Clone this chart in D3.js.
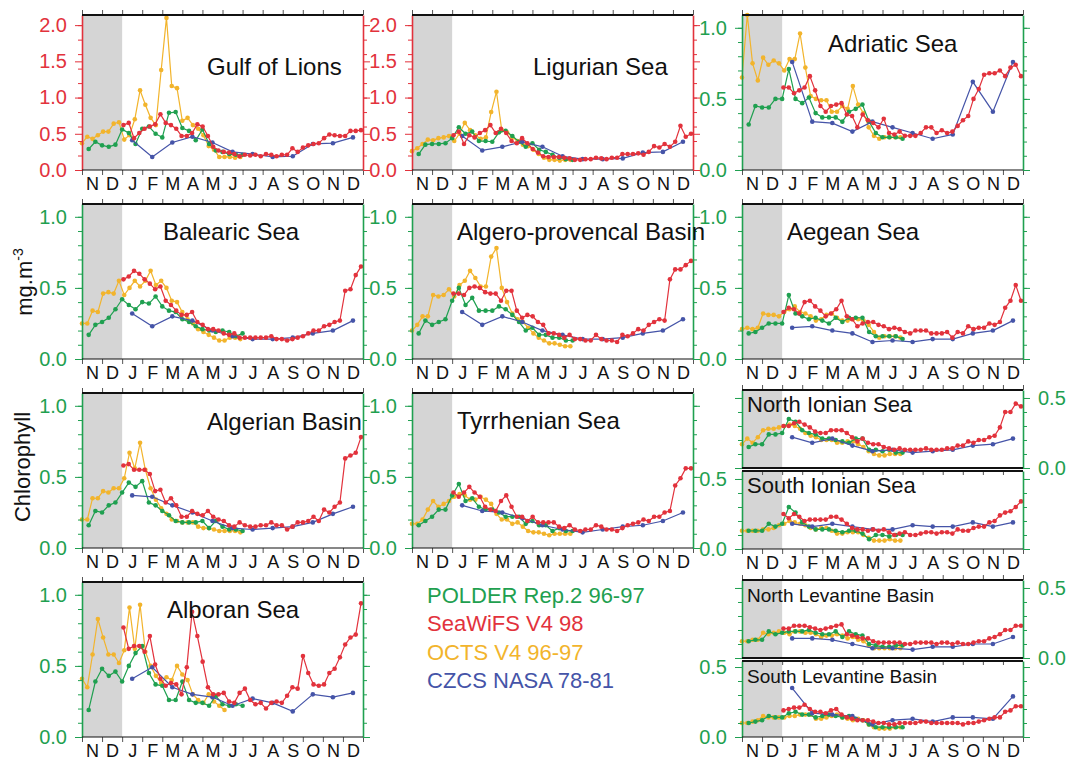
<!DOCTYPE html>
<html lang="en">
<head>
<meta charset="UTF-8">
<title>Chlorophyll seasonal cycles - Mediterranean</title>
<script src="https://d3js.org/d3.v7.min.js"></script>
<style>
  body { margin: 0; background: #fff; }
  text { font-family: "Liberation Sans", Arial, Helvetica, sans-serif; }
</style>
</head>
<body>
<svg id="chart" width="1070" height="761"></svg>
<script>
// ---------------- data ----------------
var months = ["N","D","J","F","M","A","M","J","J","A","S","O","N","D"];

// sampling dates, in months counted from 1 November (axis runs Nov..Dec = 14 months)
var seawifsT = d3.range(46).map(function(i){ return 2 + (2 + 8*i) * 12/365; }); // 8-day, 1998
var polderT  = d3.range(24).map(function(k){ return (k + 1) / 3; });            // 10-day, Nov96-Jun97
var octsT    = d3.range(31).map(function(i){ return 8*i * 12/365; });           // 8-day, Nov96-Jun97
var czcsT    = d3.range(12).map(function(m){ return 2.5 + m; });                // monthly climatology

var gulfSeawifs = [0.62,0.65,0.44,0.51,0.57,0.60,0.63,0.77,0.65,0.62,0.57,0.47,0.47,0.51,0.63,0.60,0.47,0.32,0.27,0.25,0.24,0.22,0.19,0.21,0.20,0.21,0.19,0.22,0.21,0.19,0.21,0.21,0.30,0.25,0.31,0.34,0.36,0.37,0.44,0.49,0.48,0.47,0.47,0.54,0.54,0.55];
var gulfPolder  = [0.29,0.39,0.34,0.32,0.35,0.56,0.51,0.36,0.57,0.60,0.50,0.45,0.79,0.80,0.58,0.54,0.41,0.56,0.36,0.27,0.25,0.22,0.21,0.21];
var gulfOcts    = [0.37,0.46,0.43,0.48,0.53,0.53,0.64,0.66,0.42,0.48,0.70,1.10,0.90,0.72,0.62,1.38,2.10,1.16,1.13,0.68,0.72,0.62,0.57,0.48,0.33,0.28,0.18,0.18,0.18,0.17,0.18];
var gulfCzcs    = [0.41,0.18,0.38,0.46,0.38,0.25,0.22,0.18,0.19,0.36,0.37,0.45];

var ligSeawifs = [0.48,0.53,0.36,0.48,0.45,0.51,0.55,0.62,0.51,0.57,0.51,0.40,0.37,0.44,0.37,0.29,0.24,0.19,0.18,0.18,0.18,0.17,0.16,0.14,0.14,0.15,0.15,0.17,0.16,0.15,0.17,0.17,0.22,0.22,0.22,0.23,0.21,0.25,0.33,0.31,0.36,0.32,0.39,0.61,0.46,0.50];
var ligPolder  = [0.22,0.35,0.36,0.36,0.37,0.44,0.59,0.50,0.53,0.40,0.40,0.39,0.52,0.54,0.47,0.39,0.32,0.37,0.28,0.25,0.21,0.17,0.15,0.14];
var ligOcts    = [0.26,0.30,0.36,0.42,0.41,0.44,0.45,0.47,0.40,0.50,0.65,0.55,0.48,0.43,0.45,0.80,1.08,0.55,0.52,0.45,0.40,0.35,0.33,0.28,0.22,0.17,0.14,0.14,0.13,0.14,0.14];
var ligCzcs    = [0.47,0.27,0.32,0.39,0.32,0.19,0.15,0.15,0.16,0.24,0.25,0.39];

var adrSeawifs = [0.58,0.58,0.54,0.56,0.58,0.66,0.56,0.45,0.41,0.45,0.46,0.47,0.39,0.38,0.30,0.39,0.35,0.33,0.30,0.36,0.26,0.25,0.27,0.24,0.24,0.24,0.26,0.30,0.30,0.26,0.28,0.26,0.27,0.31,0.35,0.38,0.50,0.57,0.67,0.68,0.68,0.70,0.66,0.72,0.74,0.66];
var adrPolder  = [0.32,0.45,0.44,0.44,0.50,0.50,0.71,0.50,0.47,0.51,0.40,0.37,0.37,0.37,0.34,0.41,0.43,0.46,0.34,0.26,0.23,0.23,0.23,0.22];
var adrOcts    = [0.65,1.09,0.75,0.63,0.79,0.74,0.77,0.75,0.70,0.78,0.78,0.96,0.72,0.52,0.50,0.49,0.49,0.41,0.41,0.45,0.43,0.59,0.46,0.40,0.30,0.24,0.22,0.23,0.23,0.23,0.23];
var adrCzcs    = [0.76,0.34,0.33,0.27,0.34,0.30,0.26,0.22,0.25,0.62,0.41,0.76];

var balSeawifs = [0.56,0.58,0.62,0.60,0.56,0.53,0.49,0.51,0.41,0.38,0.34,0.31,0.31,0.33,0.26,0.24,0.21,0.21,0.20,0.18,0.17,0.18,0.15,0.15,0.15,0.15,0.15,0.15,0.16,0.14,0.14,0.13,0.14,0.15,0.16,0.18,0.20,0.20,0.23,0.24,0.26,0.27,0.48,0.49,0.59,0.65];
var balPolder  = [0.17,0.24,0.26,0.29,0.35,0.42,0.38,0.35,0.40,0.39,0.44,0.37,0.34,0.33,0.28,0.26,0.23,0.21,0.20,0.19,0.20,0.19,0.16,0.18];
var balOcts    = [0.25,0.25,0.34,0.33,0.46,0.47,0.46,0.55,0.45,0.50,0.55,0.51,0.55,0.62,0.52,0.55,0.50,0.41,0.40,0.33,0.28,0.25,0.21,0.19,0.17,0.15,0.13,0.13,0.15,0.15,0.14];
var balCzcs    = [0.32,0.23,0.30,0.27,0.20,0.16,0.14,0.14,0.15,0.18,0.20,0.27];

var algpSeawifs = [0.46,0.46,0.45,0.50,0.51,0.50,0.47,0.46,0.46,0.41,0.48,0.48,0.34,0.29,0.31,0.30,0.26,0.24,0.18,0.18,0.17,0.15,0.17,0.14,0.14,0.13,0.13,0.17,0.14,0.13,0.13,0.12,0.17,0.16,0.18,0.21,0.20,0.24,0.26,0.28,0.27,0.56,0.63,0.63,0.66,0.69];
var algpPolder  = [0.18,0.27,0.24,0.26,0.28,0.41,0.50,0.38,0.43,0.34,0.34,0.34,0.37,0.35,0.31,0.26,0.20,0.22,0.17,0.17,0.15,0.15,0.13,0.13];
var algpOcts    = [0.20,0.24,0.30,0.30,0.45,0.44,0.45,0.49,0.44,0.52,0.55,0.62,0.57,0.51,0.51,0.72,0.78,0.50,0.40,0.32,0.28,0.26,0.22,0.18,0.15,0.13,0.11,0.11,0.10,0.09,0.09];
var algpCzcs    = [0.33,0.24,0.30,0.26,0.20,0.17,0.14,0.14,0.15,0.18,0.20,0.28];

var aegSeawifs = [0.33,0.36,0.35,0.32,0.40,0.41,0.37,0.34,0.30,0.32,0.35,0.41,0.30,0.28,0.23,0.25,0.26,0.26,0.24,0.23,0.21,0.22,0.21,0.19,0.18,0.20,0.20,0.20,0.18,0.18,0.18,0.19,0.15,0.19,0.18,0.23,0.21,0.22,0.22,0.25,0.24,0.26,0.36,0.41,0.52,0.41];
var aegPolder  = [0.18,0.19,0.22,0.25,0.25,0.25,0.45,0.32,0.30,0.28,0.29,0.27,0.25,0.29,0.26,0.29,0.29,0.29,0.19,0.16,0.16,0.16,0.16,0.14];
var aegOcts    = [0.21,0.22,0.21,0.22,0.32,0.31,0.31,0.30,0.33,0.35,0.37,0.33,0.32,0.30,0.27,0.28,0.31,0.32,0.29,0.27,0.27,0.28,0.28,0.27,0.24,0.19,0.15,0.16,0.16,0.16,0.15];
var aegCzcs    = [0.22,0.23,0.20,0.18,0.12,0.13,0.12,0.14,0.14,0.18,0.20,0.27];

var algSeawifs = [0.58,0.59,0.55,0.55,0.55,0.52,0.40,0.41,0.32,0.35,0.30,0.22,0.22,0.26,0.24,0.23,0.26,0.22,0.20,0.19,0.16,0.15,0.18,0.16,0.15,0.15,0.16,0.16,0.18,0.16,0.16,0.13,0.15,0.18,0.18,0.19,0.22,0.19,0.27,0.25,0.29,0.32,0.63,0.65,0.67,0.78];
var algPolder  = [0.16,0.26,0.25,0.30,0.32,0.39,0.46,0.43,0.47,0.32,0.30,0.26,0.23,0.19,0.18,0.18,0.18,0.19,0.14,0.19,0.15,0.13,0.13,0.12];
var algOcts    = [0.20,0.20,0.35,0.35,0.40,0.39,0.42,0.42,0.49,0.67,0.56,0.74,0.55,0.42,0.34,0.28,0.24,0.20,0.19,0.18,0.18,0.18,0.15,0.14,0.14,0.13,0.12,0.12,0.12,0.12,0.11];
var algCzcs    = [0.37,0.36,0.30,0.25,0.19,0.14,0.13,0.14,0.15,0.18,0.24,0.29];

var tyrSeawifs = [0.39,0.36,0.39,0.43,0.39,0.36,0.29,0.27,0.26,0.33,0.37,0.29,0.22,0.22,0.19,0.22,0.18,0.18,0.18,0.18,0.15,0.14,0.16,0.13,0.12,0.13,0.13,0.16,0.15,0.13,0.13,0.12,0.14,0.16,0.17,0.18,0.20,0.19,0.22,0.22,0.25,0.26,0.44,0.49,0.56,0.56];
var tyrPolder  = [0.16,0.19,0.22,0.27,0.27,0.37,0.45,0.33,0.35,0.29,0.27,0.27,0.25,0.22,0.22,0.22,0.17,0.19,0.16,0.16,0.12,0.14,0.12,0.12];
var tyrOcts    = [0.17,0.17,0.20,0.27,0.33,0.29,0.31,0.33,0.36,0.38,0.37,0.34,0.34,0.36,0.34,0.31,0.24,0.20,0.20,0.17,0.18,0.15,0.12,0.11,0.11,0.10,0.09,0.10,0.10,0.10,0.10];
var tyrCzcs    = [0.30,0.26,0.25,0.21,0.16,0.13,0.11,0.13,0.15,0.16,0.19,0.25];

var nionSeawifs = [0.30,0.30,0.32,0.33,0.31,0.29,0.26,0.25,0.25,0.27,0.27,0.27,0.25,0.22,0.19,0.21,0.18,0.17,0.17,0.15,0.14,0.13,0.14,0.13,0.13,0.13,0.13,0.14,0.13,0.13,0.13,0.14,0.14,0.16,0.16,0.19,0.18,0.20,0.20,0.22,0.23,0.29,0.40,0.40,0.46,0.44];
var nionPolder  = [0.15,0.17,0.17,0.24,0.24,0.25,0.35,0.33,0.27,0.25,0.24,0.21,0.21,0.20,0.19,0.18,0.21,0.21,0.13,0.13,0.12,0.13,0.11,0.11];
var nionOcts    = [0.17,0.21,0.18,0.22,0.27,0.28,0.28,0.29,0.30,0.31,0.30,0.28,0.25,0.23,0.22,0.20,0.20,0.20,0.18,0.18,0.19,0.19,0.17,0.15,0.12,0.10,0.09,0.09,0.10,0.10,0.10];
var nionCzcs    = [0.22,0.18,0.21,0.16,0.12,0.13,0.11,0.12,0.13,0.16,0.17,0.21];

var sionSeawifs = [0.25,0.22,0.25,0.23,0.20,0.21,0.21,0.21,0.21,0.23,0.23,0.21,0.18,0.15,0.14,0.14,0.13,0.14,0.13,0.14,0.12,0.10,0.11,0.12,0.10,0.10,0.11,0.12,0.12,0.11,0.12,0.12,0.11,0.14,0.13,0.13,0.15,0.16,0.16,0.19,0.20,0.24,0.26,0.27,0.30,0.34];
var sionPolder  = [0.13,0.13,0.13,0.18,0.16,0.18,0.30,0.26,0.19,0.16,0.14,0.14,0.14,0.13,0.12,0.13,0.13,0.11,0.07,0.10,0.10,0.09,0.10,0.10];
var sionOcts    = [0.13,0.13,0.13,0.13,0.14,0.14,0.15,0.17,0.18,0.20,0.19,0.18,0.17,0.15,0.14,0.15,0.15,0.13,0.11,0.11,0.12,0.12,0.12,0.10,0.08,0.06,0.06,0.06,0.07,0.06,0.06];
var sionCzcs    = [0.18,0.16,0.18,0.16,0.14,0.14,0.17,0.16,0.16,0.19,0.16,0.19];

var albSeawifs = [0.77,0.62,0.64,0.64,0.60,0.71,0.51,0.41,0.36,0.38,0.37,0.30,0.49,0.88,0.71,0.53,0.35,0.30,0.30,0.31,0.25,0.24,0.31,0.34,0.26,0.23,0.24,0.20,0.24,0.25,0.24,0.29,0.35,0.34,0.57,0.45,0.37,0.36,0.37,0.45,0.48,0.56,0.65,0.70,0.72,0.94];
var albPolder  = [0.19,0.39,0.48,0.43,0.46,0.39,0.50,0.59,0.64,0.45,0.37,0.36,0.26,0.26,0.39,0.26,0.24,0.24,0.22,0.29,0.23,0.22,0.23,0.22];
var albOcts    = [0.41,0.35,0.58,0.83,0.70,0.58,0.58,0.52,0.61,0.91,0.62,0.93,0.60,0.50,0.43,0.38,0.42,0.40,0.50,0.44,0.40,0.30,0.26,0.24,0.30,0.25,0.22,0.19,null,null,null];
var albCzcs    = [0.41,0.49,0.35,0.30,0.28,0.22,0.27,0.24,0.18,0.30,0.28,0.31];

var nlevSeawifs = [0.21,0.21,0.23,0.23,0.23,0.22,0.21,0.20,0.21,0.22,0.23,0.24,0.17,0.16,0.15,0.14,0.14,0.12,0.11,0.11,0.11,0.11,0.11,0.10,0.10,0.11,0.11,0.11,0.11,0.10,0.11,0.11,0.10,0.11,0.10,0.10,0.11,0.12,0.12,0.14,0.15,0.17,0.20,0.20,0.23,0.23];
var nlevPolder  = [0.12,0.13,0.13,0.19,0.17,0.18,0.19,0.19,0.19,0.20,0.18,0.17,0.17,0.19,0.15,0.19,0.17,0.16,0.10,0.09,0.08,0.08,0.09,0.09];
var nlevOcts    = [0.12,0.12,0.13,0.13,0.18,0.17,0.18,0.19,0.18,0.17,0.19,0.19,0.18,0.18,0.17,0.15,0.16,0.16,0.17,0.16,0.14,0.15,0.13,0.12,0.09,0.07,0.07,0.07,0.07,0.07,0.07];
var nlevCzcs    = [0.14,0.14,0.13,0.10,0.07,0.07,0.06,0.08,0.08,0.10,0.10,0.15];

var slevSeawifs = [0.19,0.20,0.21,0.21,0.23,0.20,0.18,0.18,0.17,0.19,0.20,0.16,0.14,0.13,0.12,0.12,0.12,0.11,0.10,0.10,0.09,0.09,0.10,0.10,0.10,0.10,0.11,0.11,0.10,0.10,0.10,0.10,0.10,0.10,0.09,0.10,0.10,0.11,0.12,0.13,0.14,0.14,0.18,0.19,0.22,0.22];
var slevPolder  = [0.10,0.11,0.12,0.15,0.14,0.14,0.17,0.18,0.16,0.16,0.14,0.15,0.16,0.15,0.14,0.15,0.13,0.12,0.09,0.07,0.07,0.07,0.07,0.07];
var slevOcts    = [0.10,0.10,0.11,0.12,0.15,0.14,0.14,0.14,0.14,0.15,0.15,0.16,0.16,0.16,0.13,0.13,0.14,0.15,0.16,0.14,0.13,0.12,0.13,0.12,0.09,0.07,0.06,0.06,0.06,0.07,0.07];
var slevCzcs    = [0.35,0.17,0.16,0.15,0.09,0.12,0.13,0.11,0.14,0.14,0.13,0.29];

var legendLabels = ["POLDER Rep.2 96-97","SeaWiFS V4 98","OCTS V4 96-97","CZCS NASA 78-81"];

// ---------------- styling ----------------
var RED = "#e2323c", GREEN = "#1fa050", YELLOW = "#f2b42c", BLUE = "#4554a8";
var W = 281;

var panels = [
  {title:"Gulf of Lions", x:82,  y:15,  h:155, ymax:2.14, minor:0.2, col:RED,   lab:"left", majors:[0,0.5,1,1.5,2], tx:207, ty:75, fs:24, d:[gulfPolder,gulfSeawifs,gulfOcts,gulfCzcs]},
  {title:"Ligurian Sea",  x:412, y:15,  h:155, ymax:2.14, minor:0.2, col:RED,   lab:"left", majors:[0,0.5,1,1.5,2], tx:533, ty:75, fs:24, d:[ligPolder,ligSeawifs,ligOcts,ligCzcs]},
  {title:"Adriatic Sea",  x:742, y:15,  h:155, ymax:1.09, minor:0.1, col:GREEN, lab:"left", majors:[0,0.5,1], tx:828, ty:52, fs:24, d:[adrPolder,adrSeawifs,adrOcts,adrCzcs]},
  {title:"Balearic Sea",  x:82,  y:204, h:155, ymax:1.09, minor:0.1, col:GREEN, lab:"left", majors:[0,0.5,1], tx:163, ty:240, fs:24, d:[balPolder,balSeawifs,balOcts,balCzcs]},
  {title:"Algero-provencal Basin", x:412, y:204, h:155, ymax:1.09, minor:0.1, col:GREEN, lab:"left", majors:[0,0.5,1], tx:457, ty:240, fs:24, d:[algpPolder,algpSeawifs,algpOcts,algpCzcs]},
  {title:"Aegean Sea",    x:742, y:204, h:155, ymax:1.09, minor:0.1, col:GREEN, lab:"left", majors:[0,0.5,1], tx:787, ty:240, fs:24, d:[aegPolder,aegSeawifs,aegOcts,aegCzcs]},
  {title:"Algerian Basin",x:82,  y:393, h:155, ymax:1.09, minor:0.1, col:GREEN, lab:"left", majors:[0,0.5,1], tx:207, ty:430, fs:24, d:[algPolder,algSeawifs,algOcts,algCzcs]},
  {title:"Tyrrhenian Sea",x:412, y:393, h:155, ymax:1.09, minor:0.1, col:GREEN, lab:"left", majors:[0,0.5,1], tx:457, ty:429, fs:24, d:[tyrPolder,tyrSeawifs,tyrOcts,tyrCzcs]},
  {title:"North Ionian Sea", x:742, y:390, h:78, ymax:0.557, minor:0.1, col:GREEN, lab:"right", majors:[0,0.5], tx:747, ty:412, fs:22, top:true, d:[nionPolder,nionSeawifs,nionOcts,nionCzcs]},
  {title:"South Ionian Sea", x:742, y:471, h:78, ymax:0.557, minor:0.1, col:GREEN, lab:"left", majors:[0,0.5], tx:747, ty:493, fs:22, bottom:true, d:[sionPolder,sionSeawifs,sionOcts,sionCzcs]},
  {title:"Alboran Sea",   x:82,  y:582, h:155, ymax:1.09, minor:0.1, col:GREEN, lab:"left", majors:[0,0.5,1], tx:167, ty:618, fs:24, d:[albPolder,albSeawifs,albOcts,albCzcs]},
  {title:"North Levantine Basin", x:742, y:580, h:78, ymax:0.557, minor:0.1, col:GREEN, lab:"right", majors:[0,0.5], tx:747, ty:602, fs:19, top:true, d:[nlevPolder,nlevSeawifs,nlevOcts,nlevCzcs]},
  {title:"South Levantine Basin", x:742, y:661, h:76, ymax:0.543, minor:0.1, col:GREEN, lab:"left", majors:[0,0.5], tx:747, ty:683, fs:19, bottom:true, d:[slevPolder,slevSeawifs,slevOcts,slevCzcs]}
];

var seriesT = [polderT, seawifsT, octsT, czcsT];
var seriesCol = [GREEN, RED, YELLOW, BLUE];
var drawOrder = [2, 0, 3, 1];

var svg = d3.select("#chart");

panels.forEach(function(p) {
  var g = svg.append("g").attr("transform", "translate(" + p.x + "," + p.y + ")");
  var x = d3.scaleLinear().domain([0, 14]).range([0, W]);
  var y = d3.scaleLinear().domain([0, p.ymax]).range([p.h, 0]);

  // grey band for Nov-Dec of the previous year
  g.append("rect").attr("x", x(0)).attr("y", 0).attr("width", x(2) - x(0)).attr("height", p.h)
    .attr("fill", "#d5d5d5");

  // data
  drawOrder.forEach(function(s) {
    var pts = p.d[s].map(function(v, i){ return {t: seriesT[s][i], v: v}; })
      .filter(function(d){ return d.v != null; });
    var line = d3.line().x(function(d){ return x(d.t); }).y(function(d){ return y(d.v); });
    g.append("path").datum(pts).attr("d", line)
      .attr("fill", "none").attr("stroke", seriesCol[s]).attr("stroke-width", 1.2);
    g.selectAll(null).data(pts).enter().append("circle")
      .attr("cx", function(d){ return x(d.t); })
      .attr("cy", function(d){ return y(d.v); })
      .attr("r", 2.3).attr("fill", seriesCol[s]);
  });

  // month ticks, top and bottom
  var months15 = d3.range(15);
  if (!p.bottom) {
    g.append("g").call(d3.axisTop(x).tickValues(months15).tickSize(5).tickSizeOuter(0).tickFormat(""))
      .call(function(a){ a.select(".domain").remove(); a.selectAll("line").attr("stroke", "#555"); });
  } else {
    g.append("g").call(d3.axisBottom(x).tickValues(months15.slice(1, 14)).tickSize(4).tickSizeOuter(0).tickFormat(""))
      .call(function(a){ a.select(".domain").remove(); a.selectAll("line").attr("stroke", "#555"); });
  }
  if (!p.top) {
    var xb = g.append("g").attr("transform", "translate(0," + p.h + ")");
    xb.call(d3.axisBottom(x).tickValues(months15).tickSize(5).tickSizeOuter(0).tickFormat(""))
      .call(function(a){ a.select(".domain").remove(); a.selectAll("line").attr("stroke", "#555"); });
    var xl = g.append("g").attr("transform", "translate(0," + p.h + ")")
      .call(d3.axisBottom(x).tickValues(d3.range(14).map(function(i){ return i + 0.5; }))
        .tickSize(0).tickPadding(7).tickFormat(function(d, i){ return months[i]; }));
    xl.select(".domain").remove();
    xl.selectAll("text").attr("font-size", 18).attr("fill", "#111")
      .style("font-family", "'Liberation Sans', Arial, sans-serif");
  }

  // y axes: left and right, minor + major ticks
  var minorVals = d3.range(0, p.ymax + 1e-6, p.minor).filter(function(v){ return v <= p.ymax; });
  [["left", 0], ["right", W]].forEach(function(side) {
    var mk = side[0] === "left" ? d3.axisLeft : d3.axisRight;
    var ga = g.append("g").attr("transform", "translate(" + side[1] + ",0)");
    ga.call(mk(y).tickValues(minorVals).tickSize(4).tickSizeOuter(0).tickFormat(""));
    ga.select(".domain").attr("stroke", p.col).attr("stroke-width", 1.6);
    ga.selectAll("line").attr("stroke", p.col);
    var gm = g.append("g").attr("transform", "translate(" + side[1] + ",0)");
    var withLabels = (p.lab === side[0]);
    gm.call(mk(y).tickValues(p.majors).tickSize(7).tickSizeOuter(0).tickPadding(8)
      .tickFormat(withLabels ? d3.format(".1f") : ""));
    gm.select(".domain").remove();
    gm.selectAll("line").attr("stroke", p.col);
    gm.selectAll("text").attr("fill", p.col).attr("font-size", 20)
      .style("font-family", "'Liberation Sans', Arial, sans-serif");
  });

  // top / bottom frame lines
  g.append("line").attr("x1", 0).attr("x2", W).attr("y1", 0).attr("y2", 0)
    .attr("stroke", "#111").attr("stroke-width", 2);
  g.append("line").attr("x1", 0).attr("x2", W).attr("y1", p.h).attr("y2", p.h)
    .attr("stroke", "#111").attr("stroke-width", p.top ? 2 : 1.2);

  // title
  svg.append("text").attr("x", p.tx).attr("y", p.ty).attr("font-size", p.fs)
    .attr("fill", "#111").text(p.title);
});

// y axis title
svg.append("text").attr("transform", "translate(32,282) rotate(-90)")
  .attr("text-anchor", "middle").attr("font-size", 22).attr("fill", "#111")
  .text("mg.m")
  .append("tspan").attr("font-size", 14).attr("dy", -9).text("-3");
svg.append("text").attr("transform", "translate(30,467) rotate(-90)")
  .attr("text-anchor", "middle").attr("font-size", 22).attr("fill", "#111")
  .text("Chlorophyll");

// legend
var legCols = [GREEN, RED, YELLOW, BLUE];
var legY = d3.scalePoint().domain(legendLabels).range([603, 688]);
svg.selectAll(".leg").data(legendLabels).enter().append("text")
  .attr("class", "leg")
  .attr("x", 427).attr("y", function(d){ return legY(d); })
  .attr("font-size", 22)
  .attr("fill", function(d, i){ return legCols[i]; })
  .text(function(d){ return d; });
</script>
</body>
</html>
